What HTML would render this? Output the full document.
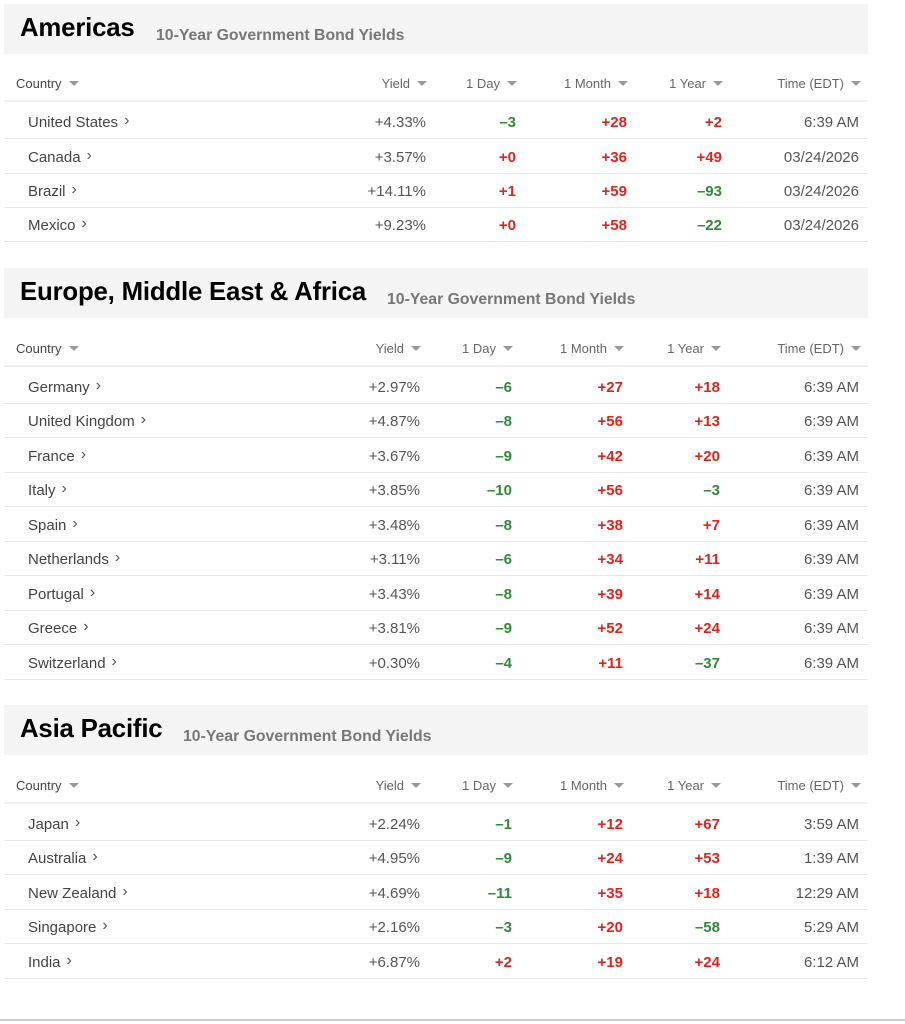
<!DOCTYPE html>
<html><head><meta charset="utf-8"><style>
*{margin:0;padding:0;box-sizing:border-box}
body{width:905px;height:1024px;background:#fff;font-family:"Liberation Sans",Arial,sans-serif;position:relative;overflow:hidden;color:#333}
.band{position:absolute;left:4px;width:864px;height:50px;background:#f4f4f4}
.band h2{position:absolute;left:16px;font-size:25.8px;font-weight:bold;color:#000;letter-spacing:-0.2px}
.band span{position:absolute;font-size:15.8px;font-weight:bold;color:#777}
.row{position:absolute;left:4px;width:864px;height:35px;border-bottom:1px solid #e8e8e8;font-size:15px;line-height:37px}
.hdr{font-size:13px;color:#666;border-bottom:2px solid #f0f0f0;height:36px;line-height:36px}
.row>*{position:absolute;top:0;white-space:nowrap}
.n{left:24px;color:#444}
.hdr .n{left:12px}
.a .c1{right:442px}.a .c2{right:352px}.a .c3{right:241px}.a .c4{right:146px}.a .c5{right:9px}
.e .c1{right:448px}.e .c2{right:356px}.e .c3{right:245px}.e .c4{right:148px}.e .c5{right:9px}
.hdr .c1,.hdr .c2,.hdr .c3,.hdr .c4{margin-right:-1px}
.hdr .c5{margin-right:-2px}
.t{display:inline-block;width:0;height:0;border-left:5px solid transparent;border-right:5px solid transparent;border-top:5px solid #999;margin-left:7px;vertical-align:2px}
.g{color:#2e8b3a;font-weight:bold}.r{color:#e3231b;font-weight:bold}
.v{color:#555}
.ch{font-size:16px;margin-left:6px;color:#555;position:relative;top:-2px}
.bottom{position:absolute;left:0;top:1019px;width:905px;height:2px;background:#ccc}
</style></head><body>

<div class="band" style="top:4px"><h2 style="top:10px">Americas</h2><span style="left:152px;top:23px">10-Year Government Bond Yields</span></div>
<div class="a">
<div class="row hdr" style="top:66px"><div class="n">Country<i class="t"></i></div><div class="c1">Yield<i class="t"></i></div><div class="c2">1 Day<i class="t"></i></div><div class="c3">1 Month<i class="t"></i></div><div class="c4">1 Year<i class="t"></i></div><div class="c5">Time (EDT)<i class="t"></i></div></div>
<div class="row" style="top:104px"><div class="n">United States<span class="ch">›</span></div><div class="c1 v">+4.33%</div><div class="c2 g">–3</div><div class="c3 r">+28</div><div class="c4 r">+2</div><div class="c5 v">6:39 AM</div></div>
<div class="row" style="top:139px"><div class="n">Canada<span class="ch">›</span></div><div class="c1 v">+3.57%</div><div class="c2 r">+0</div><div class="c3 r">+36</div><div class="c4 r">+49</div><div class="c5 v">03/24/2026</div></div>
<div class="row" style="top:173px"><div class="n">Brazil<span class="ch">›</span></div><div class="c1 v">+14.11%</div><div class="c2 r">+1</div><div class="c3 r">+59</div><div class="c4 g">–93</div><div class="c5 v">03/24/2026</div></div>
<div class="row" style="top:207px"><div class="n">Mexico<span class="ch">›</span></div><div class="c1 v">+9.23%</div><div class="c2 r">+0</div><div class="c3 r">+58</div><div class="c4 g">–22</div><div class="c5 v">03/24/2026</div></div>
</div>

<div class="band" style="top:268px"><h2 style="top:10px">Europe, Middle East &amp; Africa</h2><span style="left:383px;top:23px">10-Year Government Bond Yields</span></div>
<div class="e">
<div class="row hdr" style="top:331px"><div class="n">Country<i class="t"></i></div><div class="c1">Yield<i class="t"></i></div><div class="c2">1 Day<i class="t"></i></div><div class="c3">1 Month<i class="t"></i></div><div class="c4">1 Year<i class="t"></i></div><div class="c5">Time (EDT)<i class="t"></i></div></div>
<div class="row" style="top:369px"><div class="n">Germany<span class="ch">›</span></div><div class="c1 v">+2.97%</div><div class="c2 g">–6</div><div class="c3 r">+27</div><div class="c4 r">+18</div><div class="c5 v">6:39 AM</div></div>
<div class="row" style="top:403px"><div class="n">United Kingdom<span class="ch">›</span></div><div class="c1 v">+4.87%</div><div class="c2 g">–8</div><div class="c3 r">+56</div><div class="c4 r">+13</div><div class="c5 v">6:39 AM</div></div>
<div class="row" style="top:438px"><div class="n">France<span class="ch">›</span></div><div class="c1 v">+3.67%</div><div class="c2 g">–9</div><div class="c3 r">+42</div><div class="c4 r">+20</div><div class="c5 v">6:39 AM</div></div>
<div class="row" style="top:472px"><div class="n">Italy<span class="ch">›</span></div><div class="c1 v">+3.85%</div><div class="c2 g">–10</div><div class="c3 r">+56</div><div class="c4 g">–3</div><div class="c5 v">6:39 AM</div></div>
<div class="row" style="top:507px"><div class="n">Spain<span class="ch">›</span></div><div class="c1 v">+3.48%</div><div class="c2 g">–8</div><div class="c3 r">+38</div><div class="c4 r">+7</div><div class="c5 v">6:39 AM</div></div>
<div class="row" style="top:541px"><div class="n">Netherlands<span class="ch">›</span></div><div class="c1 v">+3.11%</div><div class="c2 g">–6</div><div class="c3 r">+34</div><div class="c4 r">+11</div><div class="c5 v">6:39 AM</div></div>
<div class="row" style="top:576px"><div class="n">Portugal<span class="ch">›</span></div><div class="c1 v">+3.43%</div><div class="c2 g">–8</div><div class="c3 r">+39</div><div class="c4 r">+14</div><div class="c5 v">6:39 AM</div></div>
<div class="row" style="top:610px"><div class="n">Greece<span class="ch">›</span></div><div class="c1 v">+3.81%</div><div class="c2 g">–9</div><div class="c3 r">+52</div><div class="c4 r">+24</div><div class="c5 v">6:39 AM</div></div>
<div class="row" style="top:645px"><div class="n">Switzerland<span class="ch">›</span></div><div class="c1 v">+0.30%</div><div class="c2 g">–4</div><div class="c3 r">+11</div><div class="c4 g">–37</div><div class="c5 v">6:39 AM</div></div>
</div>

<div class="band" style="top:705px"><h2 style="top:10px">Asia Pacific</h2><span style="left:179px;top:23px">10-Year Government Bond Yields</span></div>
<div class="e">
<div class="row hdr" style="top:768px"><div class="n">Country<i class="t"></i></div><div class="c1">Yield<i class="t"></i></div><div class="c2">1 Day<i class="t"></i></div><div class="c3">1 Month<i class="t"></i></div><div class="c4">1 Year<i class="t"></i></div><div class="c5">Time (EDT)<i class="t"></i></div></div>
<div class="row" style="top:806px"><div class="n">Japan<span class="ch">›</span></div><div class="c1 v">+2.24%</div><div class="c2 g">–1</div><div class="c3 r">+12</div><div class="c4 r">+67</div><div class="c5 v">3:59 AM</div></div>
<div class="row" style="top:840px"><div class="n">Australia<span class="ch">›</span></div><div class="c1 v">+4.95%</div><div class="c2 g">–9</div><div class="c3 r">+24</div><div class="c4 r">+53</div><div class="c5 v">1:39 AM</div></div>
<div class="row" style="top:875px"><div class="n">New Zealand<span class="ch">›</span></div><div class="c1 v">+4.69%</div><div class="c2 g">–11</div><div class="c3 r">+35</div><div class="c4 r">+18</div><div class="c5 v">12:29 AM</div></div>
<div class="row" style="top:909px"><div class="n">Singapore<span class="ch">›</span></div><div class="c1 v">+2.16%</div><div class="c2 g">–3</div><div class="c3 r">+20</div><div class="c4 g">–58</div><div class="c5 v">5:29 AM</div></div>
<div class="row" style="top:944px"><div class="n">India<span class="ch">›</span></div><div class="c1 v">+6.87%</div><div class="c2 r">+2</div><div class="c3 r">+19</div><div class="c4 r">+24</div><div class="c5 v">6:12 AM</div></div>
</div>
<div class="bottom"></div>
</body></html>
